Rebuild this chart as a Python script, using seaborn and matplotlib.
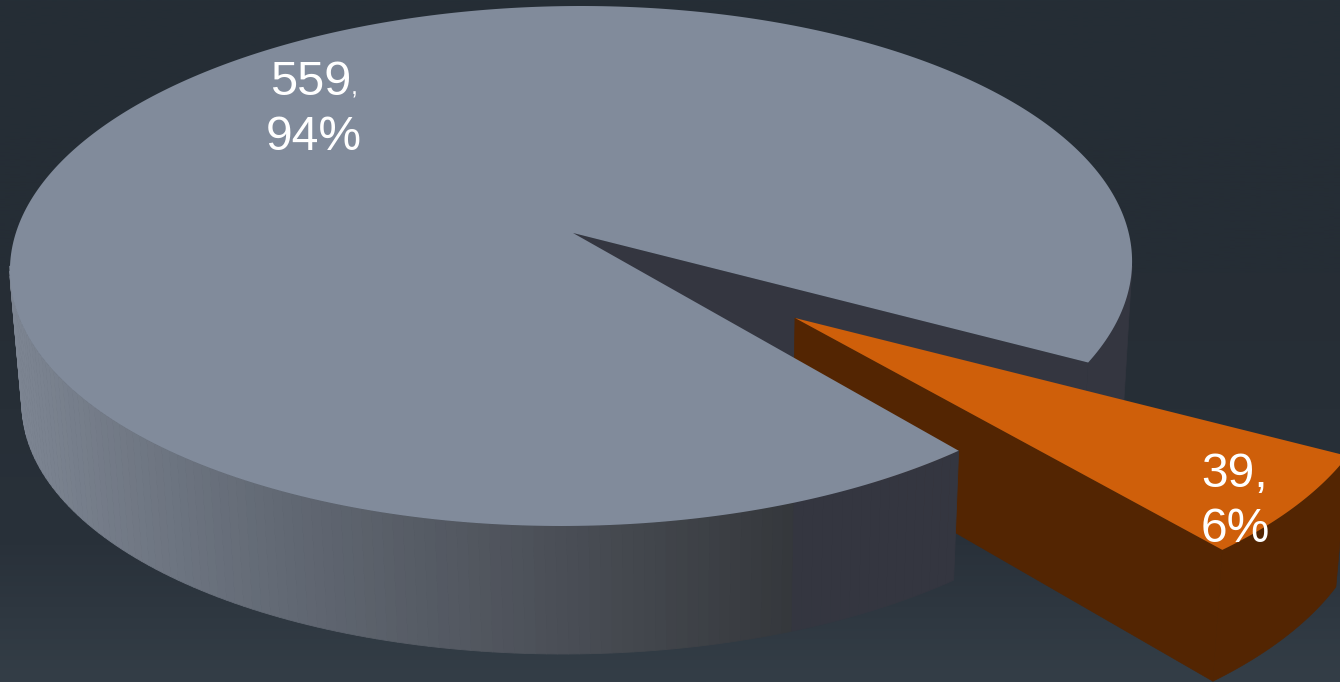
import numpy as np
import matplotlib
matplotlib.use('Agg')
import matplotlib.pyplot as plt
from matplotlib.collections import PolyCollection
from matplotlib.patches import Polygon
import seaborn as sns

# valores do grafico
categorias = ['Outros', 'Destaque']
valores = [559, 39]
percentuais = [94, 6]
cor_topo = '#818b9b'
cor_laranja = '#cf5f0a'
cor_laranja_lado = '#532502'
cor_escura = '#343640'

sns.set_theme(style='white')
plt.rcParams['font.family'] = ['Liberation Sans', 'DejaVu Sans']

W, H = 1340, 682
fig = plt.figure(figsize=(W / 100, H / 100), dpi=100)
ax = fig.add_axes([0, 0, 1, 1])
ax.set_xlim(0, W)
ax.set_ylim(H, 0)
ax.axis('off')

# fundo em degrade
fundo = sns.blend_palette(['#252e36', '#252d35', '#262d35', '#272f37', '#29313a', '#343e47'], n_colors=256)
fundo = np.array(fundo)[:, None, :]
ax.imshow(fundo, extent=[0, W, H, 0], aspect='auto', zorder=0)

# geometria do "3D": elipse de cima e elipse de baixo
cima = dict(cx=571, cy=266, rx=561, ry=260, ax=573, ay=233)
baixo = dict(cx=573, cy=399, rx=551, ry=255, ax=575, ay=358)
T0 = -21.8
SKEW = 10
SKEW_FATIA = -20
APICE_TOPO = (795, 318)
APICE_BAIXO = (793, 439)


def aro(g, t, skew=SKEW):
    t = np.radians(t)
    x = g['cx'] + g['rx'] * np.cos(t) + skew * np.sin(t)
    return np.column_stack([x, g['cy'] - g['ry'] * np.sin(t)])


def aro_fatia(g, t, apice, sx, sy):
    p = aro(g, t, SKEW_FATIA) - [g['ax'], g['ay']]
    return p * [sx, sy] + apice


varredura = 360 * valores[1] / sum(valores)
T1 = T0 - varredura
ts_grande = np.linspace(T0, T0 + 360 - varredura, 400)
ts_fatia = np.linspace(T1, T0, 60)

# parede interna e lado direito (escuros), atras de tudo
t_dir = np.linspace(T0, 0, 30)
ax.add_patch(Polygon(np.vstack([aro(cima, t_dir), aro(baixo, t_dir[::-1])]), fc=cor_escura, ec=cor_escura, lw=0.5, zorder=1))
parede = np.vstack([[[cima['ax'], cima['ay']]], aro(cima, [T0]), aro(baixo, [T0]), [[baixo['ax'], baixo['ay']]]])
ax.add_patch(Polygon(parede, fc=cor_escura, ec='none', zorder=1))

# fatia laranja destacada
rt = aro_fatia(cima, ts_fatia, APICE_TOPO, 1.05, 1.065)
rb = aro_fatia(baixo, ts_fatia, APICE_BAIXO, 1.05, 1.09)
ax.add_patch(Polygon(np.vstack([[APICE_TOPO], rt[:1], rb[:1], [APICE_BAIXO]]), fc=cor_laranja_lado, ec=cor_laranja_lado, lw=0.5, zorder=2))
ax.add_patch(Polygon(np.vstack([rt, rb[::-1]]), fc=cor_laranja_lado, ec=cor_laranja_lado, lw=0.5, zorder=2))
ax.add_patch(Polygon(np.vstack([[APICE_TOPO], rt]), fc=cor_laranja, ec='none', zorder=3))

# parede da frente com degrade por x
ts_lado = np.linspace(T1, -180, 120)
pa, pb = aro(cima, ts_lado), aro(baixo, ts_lado)
paleta = sns.blend_palette(['#7c8491', '#626974', '#4d5159', '#35383c'], n_colors=200)
quads, cores = [], []
for i in range(len(ts_lado) - 1):
    quads.append([pa[i], pa[i + 1], pb[i + 1], pb[i]])
    xm = (pa[i][0] + pa[i + 1][0]) / 2
    if xm > 790:
        cores.append(cor_escura)
    else:
        cores.append(paleta[int(np.clip((xm - 15) / 775 * 199, 0, 199))])
ax.add_collection(PolyCollection(quads, facecolors=cores, edgecolors=cores, linewidths=0.6, zorder=4))

# topo da fatia grande
topo = np.vstack([[[cima['ax'], cima['ay']]], aro(cima, ts_grande)])
ax.add_patch(Polygon(topo, fc=cor_topo, ec='none', zorder=5))

# rotulos
ax.text(311, 95, f'{valores[0]}', color='white', fontsize=35, ha='center', va='baseline', zorder=6)
ax.text(351, 95, ',', color='white', fontsize=18, ha='left', va='baseline', zorder=6)
ax.text(313.5, 150, f'{percentuais[0]}%', color='white', fontsize=34.6, ha='center', va='baseline', zorder=6)
ax.text(1235, 487, f'{valores[1]},', color='white', fontsize=34.6, ha='center', va='baseline', zorder=6)
ax.text(1235, 542, f'{percentuais[1]}%', color='white', fontsize=34.6, ha='center', va='baseline', zorder=6)

fig.savefig('out.png', dpi=100)
